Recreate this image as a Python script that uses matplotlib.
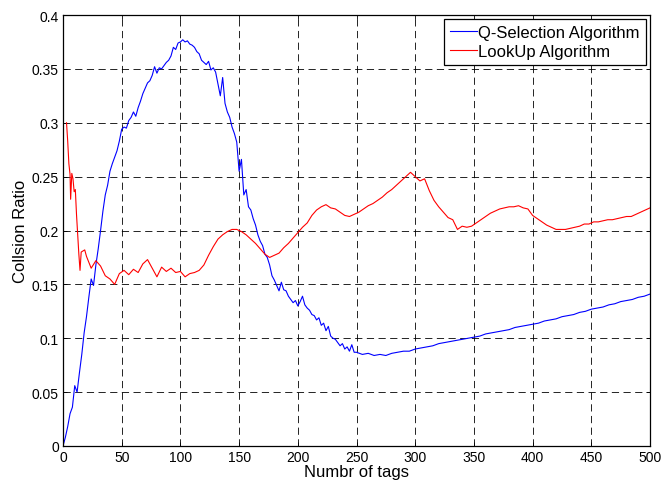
import numpy as np
import matplotlib
matplotlib.use("Agg")
import matplotlib.pyplot as plt

plt.rcParams['font.family'] = ['Liberation Sans', 'DejaVu Sans']
plt.rcParams['lines.scale_dashes'] = False

# Q-Selection algorithm: collision ratio vs. number of tags
qsel_tags = list(range(0, 250, 2)) + list(range(250, 501, 5))
qsel_ratio = [
    0.000, 0.008, 0.018, 0.030, 0.036, 0.056, 0.050, 0.068, 0.085, 0.105,
    0.120, 0.138, 0.155, 0.149, 0.168, 0.183, 0.200, 0.218, 0.233, 0.242,
    0.255, 0.262, 0.268, 0.274, 0.283, 0.294, 0.296, 0.295, 0.302, 0.305,
    0.310, 0.306, 0.314, 0.320, 0.327, 0.332, 0.337, 0.339, 0.344, 0.352,
    0.346, 0.351, 0.350, 0.353, 0.356, 0.358, 0.362, 0.370, 0.368, 0.374,
    0.375, 0.377, 0.375, 0.376, 0.373, 0.372, 0.370, 0.366, 0.364, 0.358,
    0.356, 0.354, 0.357, 0.349, 0.351, 0.347, 0.336, 0.325, 0.342, 0.318,
    0.310, 0.305, 0.296, 0.290, 0.282, 0.255, 0.266, 0.233, 0.238, 0.222,
    0.219, 0.211, 0.205, 0.196, 0.190, 0.186, 0.178, 0.175, 0.168, 0.158,
    0.154, 0.149, 0.144, 0.152, 0.145, 0.144, 0.139, 0.136, 0.133, 0.135,
    0.130, 0.134, 0.139, 0.131, 0.128, 0.126, 0.122, 0.121, 0.117, 0.119,
    0.112, 0.114, 0.107, 0.111, 0.102, 0.100, 0.099, 0.096, 0.093, 0.095,
    0.090, 0.092, 0.088, 0.094, 0.087,
    0.087, 0.085, 0.086, 0.084, 0.085, 0.084, 0.086, 0.087, 0.088, 0.088,
    0.090, 0.091, 0.092, 0.093, 0.095, 0.096, 0.097, 0.098, 0.099, 0.100,
    0.101, 0.102, 0.104, 0.105, 0.106, 0.107, 0.108, 0.110, 0.111, 0.112,
    0.113, 0.114, 0.116, 0.117, 0.118, 0.120, 0.121, 0.122, 0.124, 0.125,
    0.127, 0.128, 0.129, 0.131, 0.132, 0.134, 0.135, 0.136, 0.138, 0.139,
    0.141,
]

# LookUp algorithm: collision ratio vs. number of tags
lookup_tags = [3, 4, 5, 6, 6.5, 7.5, 8.5, 9.5, 10.5, 11.5, 12.5, 13.5,
               14.5, 15.5, 17, 18.5] + list(range(20, 501, 4))
lookup_ratio = [
    0.300, 0.283, 0.262, 0.252, 0.229, 0.253, 0.248, 0.236, 0.238, 0.215,
    0.196, 0.178, 0.163, 0.180, 0.181, 0.182,
    0.176, 0.165, 0.172, 0.167, 0.158, 0.155, 0.150, 0.160, 0.163, 0.159,
    0.164, 0.161, 0.169, 0.173, 0.165, 0.157, 0.166, 0.162, 0.165, 0.161,
    0.162, 0.157, 0.160, 0.161, 0.163, 0.168, 0.177, 0.185, 0.192, 0.196,
    0.199, 0.201, 0.201, 0.199, 0.196, 0.192, 0.188, 0.183, 0.178, 0.175,
    0.177, 0.179, 0.184, 0.188, 0.193, 0.198, 0.203, 0.207, 0.214, 0.219,
    0.222, 0.224, 0.221, 0.220, 0.217, 0.214, 0.213, 0.215, 0.217, 0.220,
    0.223, 0.225, 0.228, 0.231, 0.235, 0.238, 0.242, 0.246, 0.250, 0.254,
    0.250, 0.246, 0.248, 0.237, 0.228, 0.222, 0.217, 0.212, 0.210, 0.201,
    0.204, 0.203, 0.204, 0.207, 0.210, 0.213, 0.216, 0.218, 0.220, 0.221,
    0.222, 0.222, 0.223, 0.221, 0.220, 0.214, 0.211, 0.208, 0.205, 0.203,
    0.201, 0.201, 0.201, 0.202, 0.203, 0.204, 0.206, 0.206, 0.208, 0.208,
    0.209, 0.210, 0.210, 0.211, 0.212, 0.213, 0.213, 0.215, 0.217, 0.219,
    0.221,
]

x_ticks = [0, 50, 100, 150, 200, 250, 300, 350, 400, 450, 500]
y_ticks = [0, 0.05, 0.1, 0.15, 0.2, 0.25, 0.3, 0.35, 0.4]
y_tick_labels = ['0', '0.05', '0.1', '0.15', '0.2', '0.25', '0.3', '0.35', '0.4']

fig = plt.figure(figsize=(6.65, 4.81), dpi=100)
ax = fig.add_axes([63 / 665, 1 - 447 / 481, 587 / 665, 431 / 481])

ax.plot(qsel_tags, qsel_ratio, color=(0, 0, 1), lw=0.8,
        label='Q-Selection Algorithm')
ax.plot(lookup_tags, lookup_ratio, color=(1, 0, 0), lw=0.8,
        label='LookUp Algorithm')

ax.set_xlim(0, 500)
ax.set_ylim(0, 0.4)
ax.set_xticks(x_ticks)
ax.set_yticks(y_ticks)
ax.set_yticklabels(y_tick_labels)

ax.grid(True, color='black', lw=0.6, linestyle=(0, (5.2, 3.2)))
ax.tick_params(direction='in', length=3, width=0.6, top=True, right=True,
               labelsize=10, pad=3, colors='black')
for sp in ax.spines.values():
    sp.set_linewidth(0.9)
    sp.set_color('black')

ax.set_xlabel('Numbr of tags', fontsize=12, labelpad=0)
ax.set_ylabel('Collsion Ratio', fontsize=12, labelpad=3)

leg = ax.legend(loc='upper right', fontsize=12, handlelength=1.6,
                handletextpad=0.1, borderpad=0.35, labelspacing=0.22,
                borderaxespad=0.25, fancybox=False, framealpha=1)
leg.get_frame().set_edgecolor('black')
leg.get_frame().set_linewidth(0.9)

fig.savefig('out.png', dpi=100)
